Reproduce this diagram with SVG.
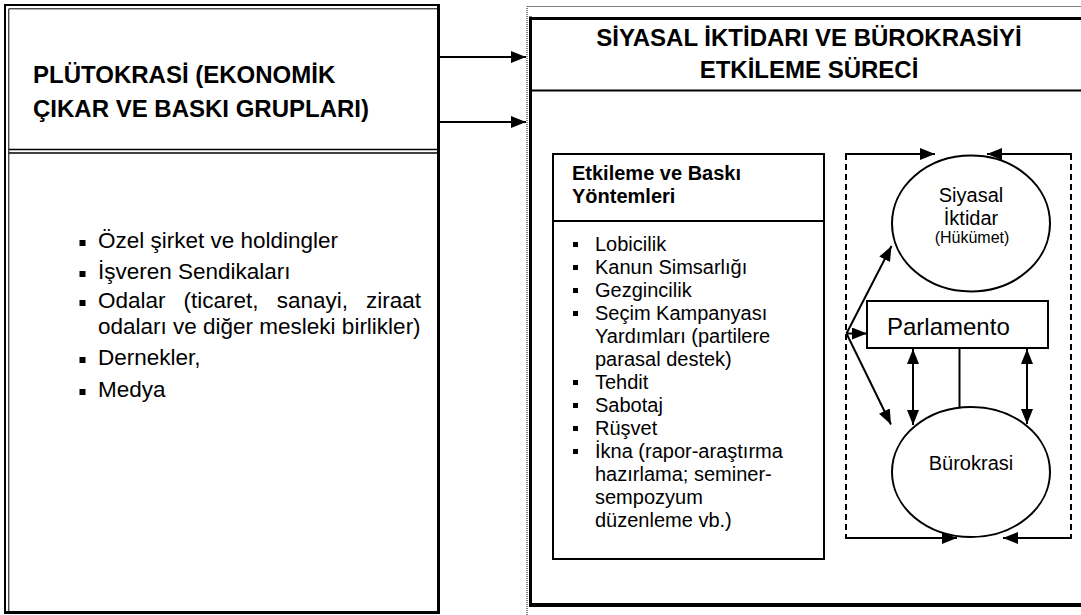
<svg xmlns="http://www.w3.org/2000/svg" width="1081" height="615" viewBox="0 0 1081 615">
<style>
text{font-family:"Liberation Sans",Arial,Helvetica,sans-serif;fill:#000}
.hb{font-weight:bold;font-size:24px}
.lb{font-size:22.5px}
.sb{font-weight:bold;font-size:20px}
.sm{font-size:20px}
.ln{stroke:#000;fill:none}
.con{stroke:#000;stroke-width:2;fill:none}
.dash{stroke:#000;stroke-width:2;fill:none;stroke-dasharray:6,4}
.blt{fill:#000}
</style>
<defs>
<marker id="ah" viewBox="0 0 15 12" refX="15" refY="6" markerWidth="15" markerHeight="12" markerUnits="userSpaceOnUse" orient="auto-start-reverse"><path d="M0,0 L15,6 L0,12 z" fill="#000"/></marker>
</defs>
<rect width="1081" height="615" fill="#fff"/>

<g id="plutokrasi">
<path class="ln" stroke-width="2" d="M5,613 V5 H440"/>
<path class="ln" stroke-width="1" d="M8.8,613 V8.8 H437"/>
<line class="ln" stroke-width="3" x1="438.5" y1="4" x2="438.5" y2="614"/>
<line class="ln" stroke-width="3" x1="4" y1="612.5" x2="440" y2="612.5"/>
<line class="ln" stroke-width="1.5" x1="8.8" y1="149.5" x2="437" y2="149.5"/>
<line class="ln" stroke-width="1.5" x1="8.8" y1="153" x2="437" y2="153"/>
<text class="hb" x="33" y="83">PLÜTOKRASİ (EKONOMİK</text>
<text class="hb" x="33" y="117">ÇIKAR VE BASKI GRUPLARI)</text>
</g>

<g id="gruplar">
<rect class="blt" x="79.5" y="240" width="6" height="6"/>
<text class="lb" x="98" y="248">Özel şirket ve holdingler</text>
<rect class="blt" x="79.5" y="271" width="6" height="6"/>
<text class="lb" x="98" y="279">İşveren Sendikaları</text>
<rect class="blt" x="79.5" y="300" width="6" height="6"/>
<text class="lb" x="98" y="308" word-spacing="11.8">Odalar (ticaret, sanayi, ziraat</text>
<text class="lb" x="98" y="334">odaları ve diğer mesleki birlikler)</text>
<rect class="blt" x="79.5" y="357" width="6" height="6"/>
<text class="lb" x="98" y="365">Dernekler,</text>
<rect class="blt" x="79.5" y="389" width="6" height="6"/>
<text class="lb" x="98" y="397">Medya</text>
</g>

<g id="surec">
<path class="ln" stroke-width="1" stroke-dasharray="1,1" d="M527,615 V6.5 H1081"/>
<line class="ln" stroke-width="3" x1="530.5" y1="16.5" x2="530.5" y2="607"/>
<line class="ln" stroke-width="3" x1="529" y1="18.5" x2="1081" y2="18.5"/>
<line class="ln" stroke-width="4" x1="529" y1="605" x2="1081" y2="605"/>
<line class="ln" stroke-width="2" x1="530" y1="90.5" x2="1081" y2="90.5"/>
<text class="hb" x="809" y="46" text-anchor="middle">SİYASAL İKTİDARI VE BÜROKRASİYİ</text>
<text class="hb" x="809" y="78" text-anchor="middle">ETKİLEME SÜRECİ</text>
</g>

<g id="yontemler">
<rect class="ln" stroke-width="2" x="553" y="154" width="271" height="405"/>
<line class="ln" stroke-width="2" x1="553" y1="221" x2="824" y2="221"/>
<text class="sb" x="572" y="180">Etkileme ve Baskı</text>
<text class="sb" x="572" y="203">Yöntemleri</text>
<g class="blt">
<rect x="573" y="242" width="5" height="5"/>
<rect x="573" y="265" width="5" height="5"/>
<rect x="573" y="288" width="5" height="5"/>
<rect x="573" y="311" width="5" height="5"/>
<rect x="573" y="380" width="5" height="5"/>
<rect x="573" y="403" width="5" height="5"/>
<rect x="573" y="426" width="5" height="5"/>
<rect x="573" y="449" width="5" height="5"/>
</g>
<text class="sm" x="595" y="251">Lobicilik</text>
<text class="sm" x="595" y="274">Kanun Simsarlığı</text>
<text class="sm" x="595" y="297">Gezgincilik</text>
<text class="sm" x="595" y="320">Seçim Kampanyası</text>
<text class="sm" x="595" y="343">Yardımları (partilere</text>
<text class="sm" x="595" y="366">parasal destek)</text>
<text class="sm" x="595" y="389">Tehdit</text>
<text class="sm" x="595" y="412">Sabotaj</text>
<text class="sm" x="595" y="435">Rüşvet</text>
<text class="sm" x="595" y="458">İkna (rapor-araştırma</text>
<text class="sm" x="595" y="481">hazırlama; seminer-</text>
<text class="sm" x="595" y="504">sempozyum</text>
<text class="sm" x="595" y="527">düzenleme vb.)</text>
</g>

<g id="siyasal-iktidar">
<ellipse class="ln" stroke-width="2" cx="971" cy="223.5" rx="79" ry="68"/>
<text class="sm" x="971" y="202" text-anchor="middle">Siyasal</text>
<text class="sm" x="971" y="225" text-anchor="middle">İktidar</text>
<text x="972" y="243" text-anchor="middle" font-size="16">(Hükümet)</text>
</g>

<g id="parlamento">
<rect class="ln" stroke-width="2" x="867" y="301" width="181" height="47"/>
<text x="887" y="335" font-size="24">Parlamento</text>
</g>

<g id="burokrasi">
<ellipse class="ln" stroke-width="2" cx="971" cy="472" rx="79" ry="65"/>
<text class="sm" x="971" y="470" text-anchor="middle">Bürokrasi</text>
</g>

<g id="connectors">
<line class="con" x1="440" y1="57" x2="526" y2="57" marker-end="url(#ah)"/>
<line class="con" x1="440" y1="122" x2="526" y2="122" marker-end="url(#ah)"/>
<line class="dash" x1="846" y1="154" x2="846" y2="538"/>
<line class="dash" x1="1071" y1="154" x2="1071" y2="538"/>
<line class="con" x1="845" y1="154" x2="935" y2="154" marker-end="url(#ah)"/>
<line class="con" x1="1072" y1="154" x2="987" y2="154" marker-end="url(#ah)"/>
<line class="con" x1="845" y1="538" x2="957" y2="538" marker-end="url(#ah)"/>
<line class="con" x1="1072" y1="538" x2="1003" y2="538" marker-end="url(#ah)"/>
<line class="con" x1="846.5" y1="333.5" x2="891.5" y2="246" marker-end="url(#ah)"/>
<line class="con" x1="846.5" y1="333.5" x2="867" y2="333.5" marker-end="url(#ah)"/>
<line class="con" x1="846.5" y1="333.5" x2="891" y2="424.5" marker-end="url(#ah)"/>
<line class="con" x1="913" y1="349" x2="913" y2="425" marker-start="url(#ah)" marker-end="url(#ah)"/>
<line class="con" x1="1027" y1="349" x2="1027" y2="424" marker-start="url(#ah)" marker-end="url(#ah)"/>
<line class="con" x1="959.5" y1="348" x2="959.5" y2="407.5"/>
</g>
</svg>
